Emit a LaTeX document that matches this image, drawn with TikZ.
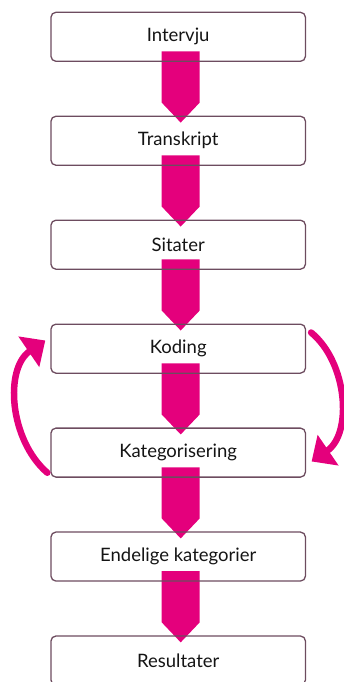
\documentclass[tikz,border=0pt]{standalone}
\usepackage{fontspec}
\setmainfont{Lato}
\usetikzlibrary{calc,arrows.meta,backgrounds}
\definecolor{pinkc}{HTML}{E4007C}
\definecolor{edgec}{HTML}{6D4C5F}
\definecolor{textc}{HTML}{141414}
\tikzset{
  stepbox/.style={draw=edgec, line width=1.3pt, rounded corners=5pt,
    minimum width=254.5pt, minimum height=49pt, inner sep=0pt,
    text=textc, font=\fontsize{18.5}{21}\selectfont},
  flowarr/.style={fill=pinkc},
  loopar/.style={draw=pinkc, line width=6.5pt, line cap=round,
    -{Triangle[length=20pt,width=36pt]}}
}
\newcommand{\flowarrow}[2]{%
  \fill[flowarr] ($(#1.south)+(-16.5pt,10.5pt)$) -- ($(#1.south)+(21.5pt,10.5pt)$)
    -- ($(#2.north)+(21.5pt,13pt)$) -- ($(#2.north)+(2.5pt,-7pt)$)
    -- ($(#2.north)+(-16.5pt,13pt)$) -- cycle;}
\begin{document}
\begin{tikzpicture}
\useasboundingbox (0pt,0pt) rectangle (344pt,-682pt);
\node[stepbox] (a) at (178.2pt,-36.8pt) {Intervju};
\node[stepbox] (b) at (178.2pt,-140.75pt) {Transkript};
\node[stepbox] (c) at (178.2pt,-244.7pt) {Sitater};
\node[stepbox] (d) at (178.2pt,-348.65pt) {Koding};
\node[stepbox] (e) at (178.2pt,-452.6pt) {Kategorisering};
\node[stepbox] (f) at (178.2pt,-556.55pt) {Endelige kategorier};
\node[stepbox] (g) at (178.2pt,-660.5pt) {Resultater};
\begin{pgfonlayer}{background}
\flowarrow{a}{b}
\flowarrow{b}{c}
\flowarrow{c}{d}
\flowarrow{d}{e}
\flowarrow{e}{f}
\flowarrow{f}{g}
\end{pgfonlayer}
\draw[loopar] ($(e.south west)+(-3pt,5pt)$)
  .. controls ($(e.south west)+(-41pt,38pt)$) and ($(d.north west)+(-46pt,-45pt)$)
  .. ($(d.north west)+(-5pt,-17pt)$);
\draw[loopar] ($(d.north east)+(5pt,-9pt)$)
  .. controls ($(d.north east)+(41.5pt,-39pt)$) and ($(e.south east)+(46.5pt,44.3pt)$)
  .. ($(e.south east)+(5.5pt,16.3pt)$);
\end{tikzpicture}
\end{document}
